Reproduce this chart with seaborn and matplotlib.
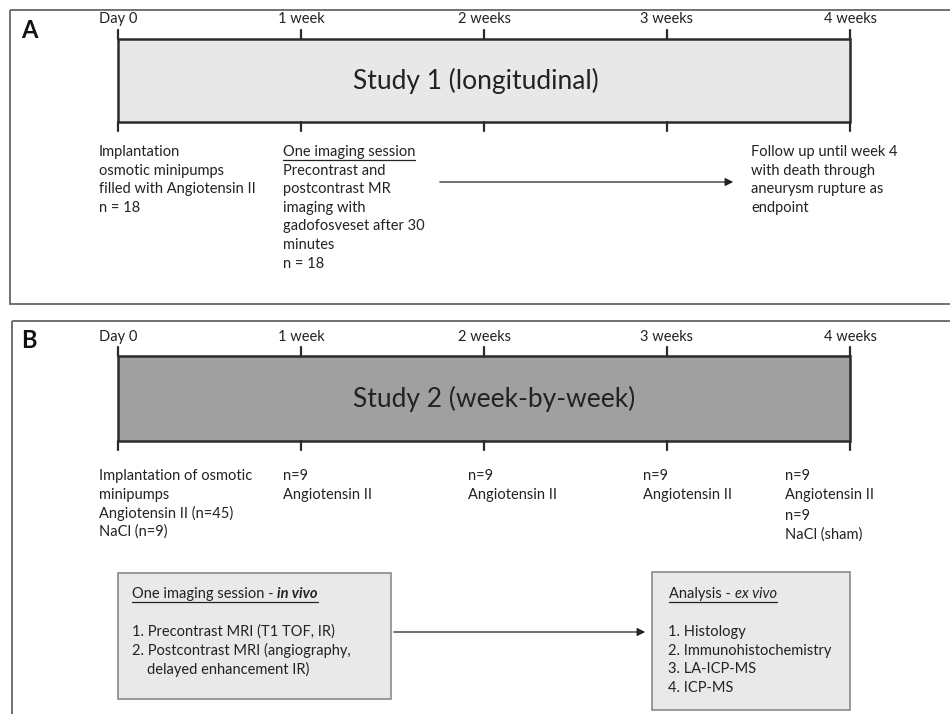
import matplotlib
matplotlib.use("Agg")
import matplotlib.pyplot as plt
import seaborn as sns
from matplotlib.patches import Rectangle

# === Data
weeks = [0, 1, 2, 3, 4]
week_labels = ["Day 0", "1 week", "2 weeks", "3 weeks", "4 weeks"]
study_titles = ["Study 1 (longitudinal)", "Study 2 (week-by-week)"]
study_fills = ["#e8e8e8", "#a0a0a0"]

n_study1 = 18
n_angio_total = 45
n_nacl = 9
n_per_week = [9, 9, 9, 9]   # Angiotensin II groups at week 1..4
n_sham = 9

study1_notes = [
    "Implantation\nosmotic minipumps\nfilled with Angiotensin II\nn = %d" % n_study1,
    "Precontrast and\npostcontrast MR\nimaging with\ngadofosveset after 30\nminutes\nn = %d" % n_study1,
    "Follow up until week 4\nwith death through\naneurysm rupture as\nendpoint",
]
imaging_steps = ["1. Precontrast MRI (T1 TOF, IR)",
                 "2. Postcontrast MRI (angiography,",
                 "    delayed enhancement IR)"]
analysis_steps = ["1. Histology", "2. Immunohistochemistry", "3. LA-ICP-MS", "4. ICP-MS"]

# === Layout (pixels)
X0, STEP = 118, 183
def wx(w):
    return X0 + w * STEP

sns.set_theme(style="white")
plt.rcParams['font.family'] = ['Lato', 'DejaVu Sans']
FS = 10.5
LS = 1.4
ROW = 18.6

fig = plt.figure(figsize=(9.5, 7.14), dpi=100)
ax = fig.add_axes([0, 0, 1, 1])
ax.set_xlim(0, 950)
ax.set_ylim(714, 0)
ax.axis("off")

dark = "#2b2b2b"
txt_c = "#222"


def timeline(y_top, y_bot, label_y, title, fill):
    ax.add_patch(Rectangle((wx(weeks[0]), y_top), wx(weeks[-1]) - wx(weeks[0]), y_bot - y_top,
                           facecolor=fill, edgecolor=dark, lw=1.8, zorder=2))
    for w, lab in zip(weeks, week_labels):
        x = wx(w)
        ax.plot([x, x], [y_top - 9, y_top], color=dark, lw=1.6, zorder=3)
        ax.plot([x, x], [y_bot, y_bot + 9], color=dark, lw=1.6, zorder=3)
        ax.text(x, label_y, lab, ha="center", va="center", fontsize=FS, color=txt_c)
    ax.text(353, (y_top + y_bot) / 2, title, ha="left", va="center", fontsize=19, color=txt_c)


def lines(x, y, text):
    # one text line per row, row centres ROW px apart
    for i, s in enumerate(text.split("\n")):
        ax.text(x, y + i * ROW, s, ha="left", va="center", fontsize=FS, color=txt_c)


def underlined(x, y, parts):
    # parts: list of (text, weight, style)
    renderer = fig.canvas.get_renderer()
    cur = x
    for txt, weight, style in parts:
        t = ax.text(cur, y, txt, ha="left", va="center", fontsize=FS, color=txt_c,
                    fontweight=weight, fontstyle=style)
        bb = t.get_window_extent(renderer=renderer)
        cur += bb.width * 950 / fig.bbox.width
    ax.plot([x, cur], [y + 8, y + 8], color=txt_c, lw=0.9)


# === Panel frames
ax.add_patch(Rectangle((10, 10), 960, 294, facecolor="none", edgecolor="#666", lw=1.3))
ax.add_patch(Rectangle((12, 321), 960, 420, facecolor="none", edgecolor="#666", lw=1.3))
ax.text(21, 31, "A", fontsize=17, fontweight="bold", ha="left", va="center", color="#111")
ax.text(21, 341, "B", fontsize=17, fontweight="bold", ha="left", va="center", color="#111")

# === Panel A
timeline(39, 122, 19, study_titles[0], study_fills[0])
lines(99, 152, study1_notes[0])
underlined(283, 152, [("One imaging session", "normal", "normal")])
lines(283, 152 + ROW, study1_notes[1])
ax.annotate("", xy=(736, 182), xytext=(437, 182),
            arrowprops=dict(arrowstyle="-|>", color=txt_c, lw=0.9, mutation_scale=12))
lines(751, 152, study1_notes[2])

# === Panel B
timeline(356, 441, 337, study_titles[1], study_fills[1])
lines(99, 476, "Implantation of osmotic\nminipumps\nAngiotensin II (n=%d)\nNaCl (n=%d)"
      % (n_angio_total, n_nacl))
group_x = [283, 468, 643, 785]
for gx, n in zip(group_x, n_per_week):
    lines(gx, 476, "n=%d\nAngiotensin II" % n)
lines(group_x[-1], 516, "n=%d\nNaCl (sham)" % n_sham)

# imaging box
ax.add_patch(Rectangle((118, 573), 273, 126, facecolor="#e9e9e9", edgecolor="#8a8a8a", lw=1.2))
underlined(132, 594, [("One imaging session - ", "normal", "normal"),
                      ("in vivo", "bold", "italic")])
lines(132, 632, "\n".join(imaging_steps))

# analysis box
ax.add_patch(Rectangle((652, 572), 198, 138, facecolor="#e9e9e9", edgecolor="#8a8a8a", lw=1.2))
underlined(669, 594, [("Analysis - ", "normal", "normal"), ("ex vivo", "normal", "italic")])
lines(668, 632, "\n".join(analysis_steps))

ax.annotate("", xy=(648, 632), xytext=(391, 632),
            arrowprops=dict(arrowstyle="-|>", color=txt_c, lw=0.9, mutation_scale=12))

fig.savefig("out.png", dpi=100, facecolor="white")
plt.close(fig)
